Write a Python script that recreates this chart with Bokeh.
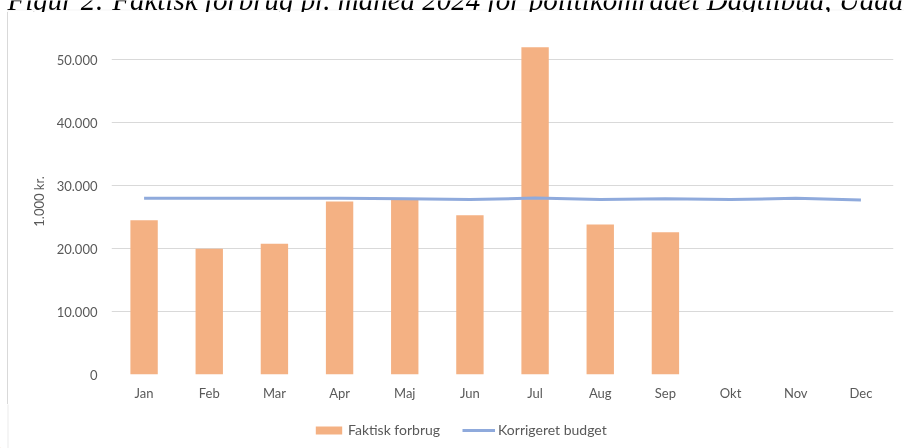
from bokeh.plotting import figure
from bokeh.layouts import column, row
from bokeh.models import (Range1d, FixedTicker, Legend, LegendItem, Label,
                          PolyAnnotation, Spacer, ColumnDataSource)
from bokeh.embed import file_html
from bokeh.resources import INLINE

# ---- data ----
months = ["Jan", "Feb", "Mar", "Apr", "Maj", "Jun", "Jul", "Aug", "Sep", "Okt", "Nov", "Dec"]
actual_months = months[:9]
actual = [24500, 20000, 20800, 27500, 27800, 25300, 52000, 23850, 22600]
budget = [28000, 28000, 28000, 28000, 27950, 27800, 28050, 27800, 27950, 27800, 28000, 27750]
y_ticks = [0, 10000, 20000, 30000, 40000, 50000]
y_tick_labels = ["0", "10.000", "20.000", "30.000", "40.000", "50.000"]
title_text = "Figur 2: Faktisk forbrug pr. måned 2024 for politikområdet Dagtilbud, Uddannelse og Børn"
y_label = "1.000 kr."
series_names = ["Faktisk forbrug", "Korrigeret budget"]

FONT = "Lato"
GREY = "#595959"
BORDER = "#D9D9D9"
BAR_COLOR = "#F4B183"
LINE_COLOR = "#8FAADC"


def strip(w, h):
    f = figure(width=w, height=h, x_range=Range1d(0, w), y_range=Range1d(0, h),
               output_backend="svg", toolbar_location=None,
               x_axis_location=None, y_axis_location=None, min_border=0)
    f.outline_line_color = None
    f.xgrid.grid_line_color = None
    f.ygrid.grid_line_color = None
    return f


# ---- caption strip (upper part of the caption lies outside the window) ----
tf = strip(904, 12)
tf.add_layout(PolyAnnotation(xs=[7.5, 7.5, 920, 920], ys=[-10, 2.5, 2.5, -10],
                             fill_alpha=0, line_color=BORDER, line_width=1))
tf.add_layout(Label(x=7, y=13, text=title_text, text_font="Liberation Serif",
                    text_font_style="italic", text_font_size="29px",
                    text_color="black", text_baseline="alphabetic"))

# ---- 1px left border of the chart box ----
left_border = Spacer(width=1, height=392, styles={"background-color": BORDER})

# ---- main chart ----
p = figure(x_range=months, y_range=Range1d(0, 55000), width=896, height=392,
           output_backend="svg", toolbar_location=None,
           min_border_left=103, min_border_right=11, min_border_top=16, min_border_bottom=30)
p.outline_line_color = None

bar_src = ColumnDataSource(dict(m=actual_months, v=actual))
line_src = ColumnDataSource(dict(m=months, v=budget))
p.vbar(x="m", top="v", width=0.42, source=bar_src, fill_color=BAR_COLOR, line_color=None)
p.line(x="m", y="v", source=line_src, line_color=LINE_COLOR, line_width=3)

p.xgrid.grid_line_color = None
p.ygrid.grid_line_color = BORDER
p.ygrid.grid_line_width = 1

p.yaxis.ticker = FixedTicker(ticks=y_ticks)
p.yaxis.major_label_overrides = {t: l for t, l in zip(y_ticks, y_tick_labels)}
for ax in (p.xaxis[0], p.yaxis[0]):
    ax.axis_line_color = None
    ax.major_tick_line_color = None
    ax.minor_tick_line_color = None
    ax.major_tick_in = 0
    ax.major_tick_out = 0
    ax.major_label_text_font = FONT
    ax.major_label_text_font_size = "13px"
    ax.major_label_text_color = GREY
p.yaxis.major_label_standoff = 14
p.xaxis.major_label_standoff = 10
p.yaxis.axis_label = y_label
p.yaxis.axis_label_text_font = FONT
p.yaxis.axis_label_text_font_size = "13px"
p.yaxis.axis_label_text_font_style = "normal"
p.yaxis.axis_label_text_color = GREY
p.yaxis.axis_label_standoff = 7

# ---- legend strip ----
lf = strip(904, 44)
lf.add_layout(PolyAnnotation(xs=[7.5, 7.5, 7.5], ys=[-10, 60, -10],
                             fill_alpha=0, line_color=BORDER, line_width=1))
# legend keys: one off-screen sample each, only their styles are shown in the legend
key_bar = lf.vbar(x=[-100], top=[1], width=1, fill_color=BAR_COLOR, line_color=None)
key_line = lf.line(x=[-100, -90], y=[1, 1], line_color=LINE_COLOR, line_width=3)
legend = Legend(items=[LegendItem(label=series_names[0], renderers=[key_bar]),
                       LegendItem(label=series_names[1], renderers=[key_line])],
                location=(312, 10), orientation="horizontal",
                glyph_width=33, glyph_height=10, label_standoff=3, spacing=22,
                padding=0, margin=0, border_line_color=None, background_fill_alpha=0,
                label_text_font=FONT, label_text_font_size="14px", label_text_color=GREY)
lf.add_layout(legend, "center")

layout = column(tf, row(Spacer(width=7, height=392), left_border, p, spacing=0), lf, spacing=0)
layout.styles = {"position": "fixed", "top": "0px", "left": "0px"}

open("out.html", "w").write(file_html(layout, INLINE))
